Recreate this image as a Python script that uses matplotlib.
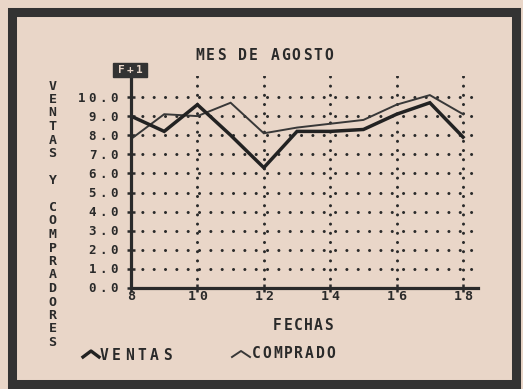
import matplotlib.pyplot as plt
from matplotlib.lines import Line2D
from matplotlib.patches import Rectangle

# datos del mes de agosto
fechas = [8, 9, 10, 11, 12, 13, 14, 15, 16, 17, 18]
ventas = [9.0, 8.2, 9.6, 8.0, 6.3, 8.2, 8.2, 8.3, 9.1, 9.7, 7.9]
comprado = [7.8, 9.1, 9.0, 9.7, 8.1, 8.4, 8.6, 8.8, 9.6, 10.1, 9.1]
marcas_x = [8, 10, 12, 14, 16, 18]
marcas_y = [0, 1, 2, 3, 4, 5, 6, 7, 8, 9, 10]
etiquetas_y = ["%.1f" % v for v in marcas_y]

PAPEL = "#e9d6c8"
TINTA = "#2a2a2a"
W, H = 523, 389
FUENTE = "DejaVu Sans Mono"

fig = plt.figure(figsize=(W / 100, H / 100), dpi=100, facecolor=PAPEL)


def px(x, y):
    # pixeles (origen arriba a la izquierda) -> fraccion de figura
    return x / W, 1 - y / H


def escribir(x, y, texto, paso, size, color=TINTA):
    # texto estilo impresora: un caracter por celda de ancho fijo
    x0 = x - paso * (len(texto) - 1) / 2
    for i, c in enumerate(texto):
        fig.text(*px(x0 + i * paso, y), c, ha="center", va="center",
                 fontsize=size, fontweight="bold", family=FUENTE, color=color)


ax = fig.add_axes([131 / W, 1 - 288 / H, 347 / W, 212 / H])
ax.set_facecolor(PAPEL)
ax.set_xlim(8, 18.45)
ax.set_ylim(0, 11.1)

for lado in ["top", "right"]:
    ax.spines[lado].set_visible(False)
for lado in ["left", "bottom"]:
    ax.spines[lado].set_linewidth(2.3)
    ax.spines[lado].set_color(TINTA)

ax.set_xticks(marcas_x)
ax.set_yticks(marcas_y)
ax.set_xticklabels([])
ax.set_yticklabels([])
ax.tick_params(direction="inout", length=6, width=1.8, color=TINTA)

# rejilla de puntos
ax.grid(axis="y", color=TINTA, linestyle=(0, (0.01, 3.7)), linewidth=2.2,
        dash_capstyle="round")
ax.grid(axis="x", color=TINTA, linestyle=(0, (0.01, 3.0)), linewidth=2.2,
        dash_capstyle="round")
ax.set_axisbelow(True)

ax.plot(fechas, comprado, color="#383838", linewidth=1.4, solid_joinstyle="miter")
ax.plot(fechas, ventas, color="#222222", linewidth=2.5, solid_joinstyle="miter")

# etiquetas de los ejes, caracter por caracter
paso_y = 10.8
for v, txt in zip(marcas_y, etiquetas_y):
    n = len(txt)
    for i, c in enumerate(txt):
        ax.annotate(c, xy=(0, v), xycoords=("axes fraction", "data"),
                    xytext=(-17 - (n - 1 - i) * paso_y, -1), textcoords="offset pixels",
                    ha="center", va="center", fontsize=9,
                    fontweight="bold", family=FUENTE, color=TINTA,
                    annotation_clip=False)

paso_x = 11
for v in marcas_x:
    txt = str(v)
    n = len(txt)
    for i, c in enumerate(txt):
        ax.annotate(c, xy=(v, 0), xycoords=("data", "axes fraction"),
                    xytext=((i - (n - 1) / 2) * paso_x, -9), textcoords="offset pixels",
                    ha="center", va="center", fontsize=9.5, fontweight="bold",
                    family=FUENTE, color=TINTA, annotation_clip=False)

escribir(264, 55, "MES DE AGOSTO", 10.75, 10.5)
escribir(303, 325, "FECHAS", 10.2, 10.5)

# titulo vertical del eje y, letras apiladas
rotulo_y = "VENTAS Y COMPRADORES"
for i, c in enumerate(rotulo_y):
    fig.text(*px(52.5, 86 + i * 13.5), c, ha="center", va="center",
             fontsize=9.5, fontweight="bold", family=FUENTE, color=TINTA)

# cajita F+1 arriba del eje
fig.patches.append(Rectangle(px(113, 77), 34 / W, 14 / H, transform=fig.transFigure,
                             facecolor="#333333", edgecolor="#333333"))
escribir(130, 70, "F+1", 9, 8, color=PAPEL)

# leyenda
fig.add_artist(Line2D([83 / W, 91 / W, 99 / W], [1 - 357 / H, 1 - 351 / H, 1 - 357 / H],
                      color="#222222", linewidth=2.4, transform=fig.transFigure))
escribir(135.5, 355, "VENTAS", 12.6, 10.5)
fig.add_artist(Line2D([232 / W, 241 / W, 250 / W], [1 - 357 / H, 1 - 351 / H, 1 - 357 / H],
                      color="#383838", linewidth=1.4, transform=fig.transFigure))
escribir(293.5, 354, "COMPRADO", 10.6, 10.5)

# marco grueso alrededor
fig.patches.append(Rectangle(px(12, 384), 504 / W, 372 / H, transform=fig.transFigure,
                             fill=False, edgecolor="#333333", linewidth=6.5))

fig.savefig("out.png", dpi=100, facecolor=PAPEL)
